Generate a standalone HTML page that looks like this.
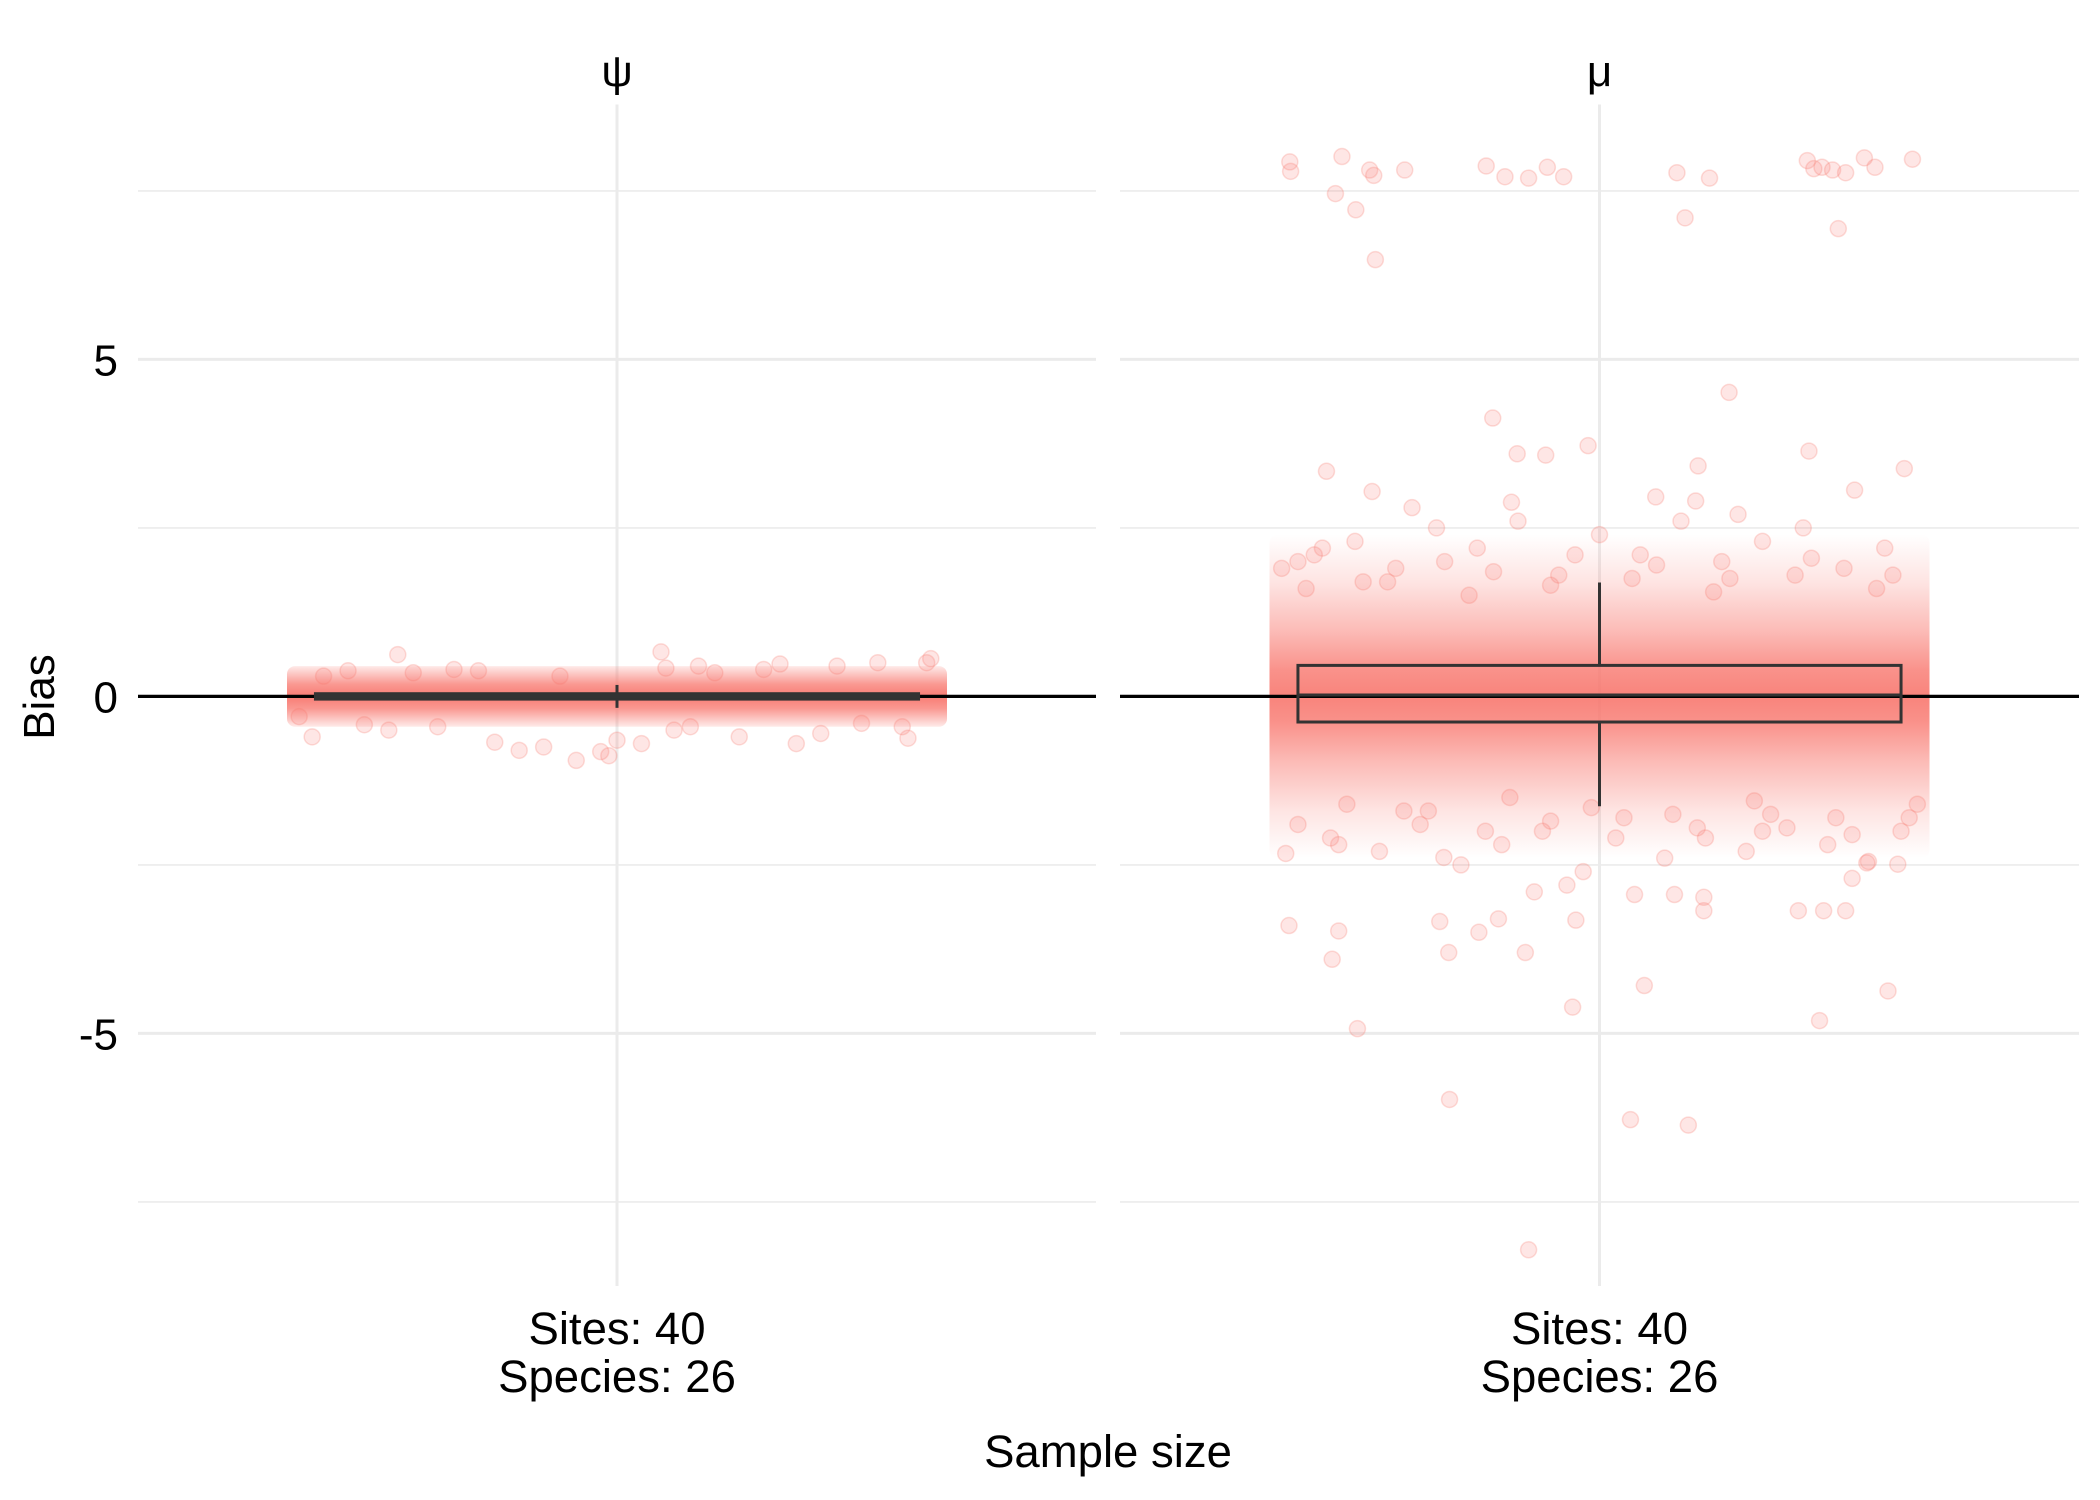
<!DOCTYPE html>
<html><head><meta charset="utf-8"><style>
html,body{margin:0;padding:0;background:#fff;}
svg{display:block;font-family:"Liberation Sans",sans-serif;}
</style></head><body>
<svg id="chart" width="2100" height="1500" viewBox="0 0 2100 1500">
<defs>
<linearGradient id="coreR" x1="0" y1="0" x2="0" y2="1">
<stop offset="0" stop-color="#F8766D" stop-opacity="0"/>
<stop offset="0.15" stop-color="#F8766D" stop-opacity="0.2"/>
<stop offset="0.3" stop-color="#F8766D" stop-opacity="0.5"/>
<stop offset="0.42" stop-color="#F8766D" stop-opacity="0.8"/>
<stop offset="0.5" stop-color="#F8766D" stop-opacity="0.9"/>
<stop offset="0.58" stop-color="#F8766D" stop-opacity="0.8"/>
<stop offset="0.7" stop-color="#F8766D" stop-opacity="0.5"/>
<stop offset="0.85" stop-color="#F8766D" stop-opacity="0.2"/>
<stop offset="1" stop-color="#F8766D" stop-opacity="0"/>
</linearGradient>
<linearGradient id="coreL" x1="0" y1="0" x2="0" y2="1">
<stop offset="0" stop-color="#F8766D" stop-opacity="0.15"/>
<stop offset="0.3" stop-color="#F8766D" stop-opacity="0.75"/>
<stop offset="0.5" stop-color="#F8766D" stop-opacity="0.95"/>
<stop offset="0.7" stop-color="#F8766D" stop-opacity="0.75"/>
<stop offset="1" stop-color="#F8766D" stop-opacity="0.15"/>
</linearGradient>
</defs>
<g id="grid"></g>
<g id="marks"></g>
<g id="labels"></g>
</svg>
<script>
// ---- data ----
const panels = ["ψ", "μ"];
const yTicks = [-5, 0, 5];
const yTickLabels = ["-5", "0", "5"];
const yMinor = [-7.5, -2.5, 2.5, 7.5];
const categoryLine1 = "Sites: 40";
const categoryLine2 = "Species: 26";
// boxplot stats [lowerWhisker, q1, median, q3, upperWhisker]
const boxPsi = [-0.17, -0.04, 0, 0.04, 0.17];
const boxMu = [-1.63, -0.38, 0.02, 0.46, 1.69];
// dense core extents (value units) for shading
const corePsi = [-0.45, 0.45];
const coreMu = [-2.4, 2.4];
// psi points: jitter offsets and values
const psiOff = [0.054,-0.269,-0.374,0.385,0.357,-0.2,-0.12,0.2,0.1,-0.05,0.03,-0.33,0.25,-0.15,0.32,-0.28,0.06,-0.01,0.15,-0.22,0.38,-0.36,0.27,-0.09,0.12,-0.17,0.22,0.3,-0.31,0.0,-0.02,-0.07,0.09,0.18,-0.25,0.35,-0.39,0.07];
const psiVal = [0.66,0.62,-0.6,0.56,-0.62,0.4,-0.8,0.48,0.45,-0.95,-0.7,0.38,-0.55,-0.68,0.5,-0.5,0.42,-0.88,-0.6,-0.45,0.5,0.3,0.45,-0.75,0.35,0.38,-0.7,-0.4,-0.42,-0.65,-0.82,0.3,-0.45,0.4,0.35,-0.45,-0.3,-0.5];
// mu points: jitter offsets and values
const muOff = [-0.38,-0.379,-0.316,-0.282,-0.277,-0.239,-0.139,-0.116,-0.087,-0.064,-0.044,0.095,0.135,0.255,0.263,0.273,0.286,0.302,0.325,0.338,0.384,
 -0.324,-0.299,-0.275,0.105,0.293,-0.014,0.159,0.257,-0.335,-0.279,-0.131,-0.101,-0.066,-0.108,0.374,0.313,0.118,0.069,0.121,
 -0.381,-0.328,-0.297,-0.184,-0.087,-0.033,0.038,0.055,0.109,0.2,0.27,0.354,-0.148,-0.091,-0.185,-0.196,-0.124,-0.029,0.043,0.092,0.128,0.244,0.275,0.302,-0.385,0.328,0.366,0.128,-0.191,-0.08,-0.32,
 -0.35,-0.3,-0.25,-0.2,-0.15,-0.1,-0.05,0.0,0.05,0.1,0.15,0.2,0.25,0.3,0.35,-0.33,-0.27,-0.22,-0.17,-0.12,-0.07,-0.02,0.03,0.08,0.13,0.18,0.23,0.28,0.33,0.37,
 -0.36,-0.26,-0.16,-0.06,0.04,0.14,0.24,0.34,-0.31,-0.21,-0.11,-0.01,0.09,0.19,0.29,0.39,-0.37,-0.23,-0.04,0.17,0.31,
 -0.39,-0.34,-0.29,-0.19,-0.13,-0.03,0.07,0.16,0.26,0.36,-0.37,-0.32,-0.24,-0.14,-0.06,0.02,0.12,0.21,0.31,0.38];
const muVal = [7.93,7.79,8.01,7.81,7.73,7.81,7.87,7.71,7.69,7.85,7.71,7.77,7.69,7.95,7.83,7.85,7.81,7.77,7.99,7.85,7.97,
 7.46,7.22,6.48,7.10,6.94,3.72,4.51,3.64,3.34,3.04,4.13,3.6,3.58,2.88,3.38,3.06,2.9,2.96,3.42,
 -3.4,-3.9,-4.93,-5.98,-8.21,-4.61,-6.28,-4.29,-6.36,-2.0,-4.81,-4.37,-3.5,-3.8,-3.8,-3.34,-3.3,-3.32,-2.94,-2.94,-3.18,-3.18,-3.18,-3.18,-2.33,-2.47,-2.49,-2.98,-2.39,-2.9,-3.48,
 2.1,2.3,1.9,2.5,2.2,2.6,1.8,2.4,2.1,2.6,2.0,2.3,2.5,1.9,2.2,-2.1,-2.3,-1.9,-2.5,-2.2,-2.0,-2.6,-1.8,-2.4,-2.1,-2.3,-1.95,-2.2,-2.45,-2.0,
 1.6,1.7,1.5,1.65,1.75,1.55,1.8,1.6,-1.6,-1.7,-1.5,-1.65,-1.75,-1.55,-1.8,-1.6,2.0,2.8,-2.8,2.7,-2.7,
 1.9,2.2,1.7,2.0,1.85,2.1,1.95,1.75,2.05,1.8,-1.9,-2.2,-1.7,-2.0,-1.85,-2.1,-1.95,-1.75,-2.05,-1.8];

// ---- scales ----
const Y0 = 696.4, PX_PER = 67.4;
function y(v){ return Y0 - v*PX_PER; }
const panelLeft = [138, 1120], panelRight = [1096, 2079];
function cx(p){ return (panelLeft[p]+panelRight[p])/2; }
const JIT = 815;
function x(p, off){ return cx(p) + off*JIT; }
const TOP = 104.5, BOTTOM = 1286;
const NS = "http://www.w3.org/2000/svg";
function mk(tag, attrs, parent){ const e=document.createElementNS(NS,tag); for(const k in attrs) e.setAttribute(k, attrs[k]); parent.appendChild(e); return e; }
const grid = document.getElementById("grid"), marks = document.getElementById("marks"), labels = document.getElementById("labels");

for (let p=0;p<2;p++){
  yMinor.forEach(v=>{
    const l = mk("line",{x1:panelLeft[p],x2:panelRight[p],y1:y(v),y2:y(v),stroke:"#EBEBEB","stroke-width":1.6},grid);
    
    
  });
  yTicks.forEach(v=>{
    const l = mk("line",{x1:panelLeft[p],x2:panelRight[p],y1:y(v),y2:y(v),stroke:"#EBEBEB","stroke-width":3},grid);
    
    
  });
  const vl = mk("line",{x1:cx(p),x2:cx(p),y1:TOP,y2:BOTTOM,stroke:"#EBEBEB","stroke-width":3},grid);
  
  
}

function drawPanel(p, off, val, core, fillId){
  const r = mk("rect",{x:x(p,-0.4)-4,y:y(core[1]),width:0.8*JIT+8,height:y(core[0])-y(core[1]),fill:"url(#"+fillId+")",rx:8},marks);
  
  
  off.forEach((o,i)=>{
    const c = mk("circle",{cx:x(p,o),cy:y(val[i]),r:8,fill:"#F8766D","fill-opacity":0.18,stroke:"#F8766D","stroke-opacity":0.25,"stroke-width":1.5},marks);
    
    
  });
}
drawPanel(0, psiOff, psiVal, corePsi, "coreL");
drawPanel(1, muOff, muVal, coreMu, "coreR");

for (let p=0;p<2;p++){
  const z = mk("line",{x1:panelLeft[p],x2:panelRight[p],y1:y(0),y2:y(0),stroke:"#000","stroke-width":3.2},marks);
  
  
}
function drawBox(p, b){
  const g = mk("g",{},marks);
  
  
  const hw = 0.37*JIT;
  mk("line",{x1:cx(p),x2:cx(p),y1:y(b[4]),y2:y(b[3]),stroke:"#333","stroke-width":3},g);
  mk("line",{x1:cx(p),x2:cx(p),y1:y(b[1]),y2:y(b[0]),stroke:"#333","stroke-width":3},g);
  mk("rect",{x:cx(p)-hw,y:y(b[3]),width:2*hw,height:Math.max(y(b[1])-y(b[3]),1),fill:"none",stroke:"#333","stroke-width":3},g);
  mk("line",{x1:cx(p)-hw,x2:cx(p)+hw,y1:y(b[2]),y2:y(b[2]),stroke:"#333","stroke-width":p===0?5:3},g);
}
drawBox(0, boxPsi);
drawBox(1, boxMu);

function txt(s, attrs, name){
  const t = mk("text", Object.assign({fill:"#000","font-size":44}, attrs), labels);
  t.textContent = s;
  
  
  return t;
}
panels.forEach((s,p)=>{ txt(s,{x:cx(p),y:86,"text-anchor":"middle","font-size":44}, "strip-label"); });
yTicks.forEach((v,i)=>{ txt(yTickLabels[i],{x:118,y:y(v)+16,"text-anchor":"end","font-size":44}, "y-tick-label"); });
for (let p=0;p<2;p++){
  txt(categoryLine1,{x:cx(p),y:1344,"text-anchor":"middle","font-size":45.5}, "x-tick-label-sites");
  txt(categoryLine2,{x:cx(p),y:1392,"text-anchor":"middle","font-size":45.5}, "x-tick-label-species");
}
txt("Sample size",{x:1108,y:1467,"text-anchor":"middle","font-size":45.5}, "x-axis-title");
txt("Bias",{x:0,y:0,"text-anchor":"middle","font-size":44,transform:"translate(54,697) rotate(-90)"}, "y-axis-title");
</script>
</body></html>
